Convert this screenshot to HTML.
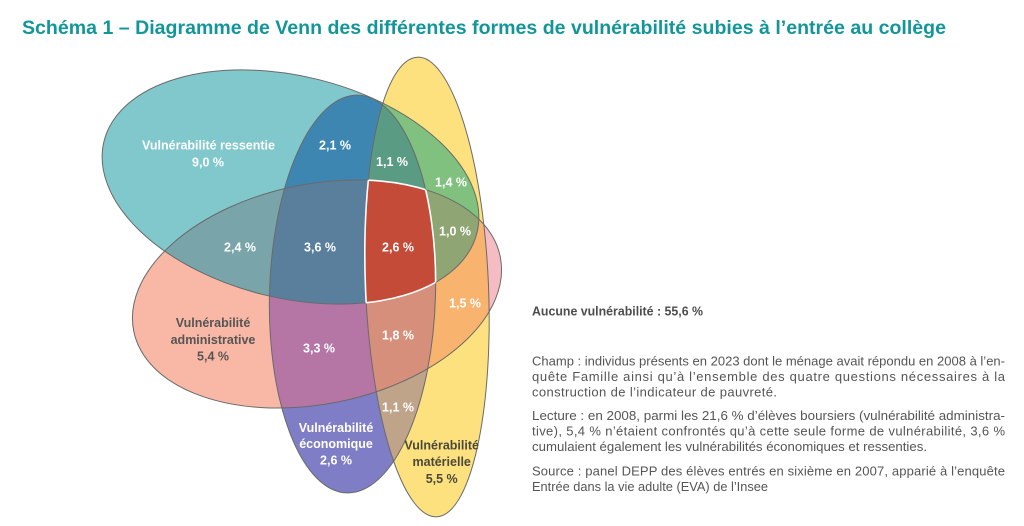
<!DOCTYPE html>
<html><head><meta charset="utf-8"><style>html,body{margin:0;padding:0;background:#fff;}svg{display:block;}</style></head>
<body>
<svg width="1024" height="526" viewBox="0 0 1024 526" xmlns="http://www.w3.org/2000/svg">
<defs>
<ellipse id="eR" cx="290.5" cy="187" rx="192" ry="111" transform="rotate(13.75 290.5 187)"/>
<ellipse id="eE" cx="352.5" cy="294" rx="83" ry="199" transform="rotate(1.6 352.5 294)"/>
<ellipse id="eM" cx="427" cy="287" rx="61.5" ry="230" transform="rotate(-2.4 427 287)"/>
<ellipse id="eA" cx="317" cy="294" rx="187" ry="110" transform="rotate(-11.5 317 294)"/>
<clipPath id="cR"><ellipse cx="290.5" cy="187" rx="192" ry="111" transform="rotate(13.75 290.5 187)"/></clipPath>
<clipPath id="cE"><ellipse cx="352.5" cy="294" rx="83" ry="199" transform="rotate(1.6 352.5 294)"/></clipPath>
<clipPath id="cM"><ellipse cx="427" cy="287" rx="61.5" ry="230" transform="rotate(-2.4 427 287)"/></clipPath>
<clipPath id="cA"><ellipse cx="317" cy="294" rx="187" ry="110" transform="rotate(-11.5 317 294)"/></clipPath>
</defs>
<rect width="1024" height="526" fill="#fff"/>

<text x="22" y="34" font-family="Liberation Sans, sans-serif" font-weight="bold" font-size="19.5" fill="#13969a" textLength="924" lengthAdjust="spacingAndGlyphs">Schéma 1 – Diagramme de Venn des différentes formes de vulnérabilité subies à l’entrée au collège</text>

<!-- singles -->
<use href="#eR" fill="#80c8cc"/>
<use href="#eA" fill="#f9b8a5"/>
<use href="#eE" fill="#7f7dc5"/>
<use href="#eM" fill="#fde17e"/>
<g clip-path="url(#cA)"><rect x="470" y="180" width="60" height="180" fill="#f6bcc3"/></g>

<!-- pairs -->
<g clip-path="url(#cR)"><use href="#eE" fill="#3d86b1"/></g>
<g clip-path="url(#cR)"><use href="#eM" fill="#80c17f"/></g>
<g clip-path="url(#cR)"><use href="#eA" fill="#79a4a9"/></g>
<g clip-path="url(#cA)"><use href="#eE" fill="#b576a6"/></g>
<g clip-path="url(#cA)"><use href="#eM" fill="#f8b36f"/></g>
<g clip-path="url(#cE)"><use href="#eM" fill="#bfa48a"/></g>

<!-- triples -->
<g clip-path="url(#cR)"><g clip-path="url(#cE)"><use href="#eM" fill="#5a9b84"/></g></g>
<g clip-path="url(#cR)"><g clip-path="url(#cM)"><use href="#eA" fill="#8fa674"/></g></g>
<g clip-path="url(#cR)"><g clip-path="url(#cE)"><use href="#eA" fill="#5a7f9c"/></g></g>
<g clip-path="url(#cA)"><g clip-path="url(#cE)"><use href="#eM" fill="#d68f7b"/></g></g>

<!-- quad -->
<g clip-path="url(#cR)"><g clip-path="url(#cE)"><g clip-path="url(#cM)"><use href="#eA" fill="#c44b38"/></g></g></g>

<!-- outlines -->
<g fill="none" stroke="#6a6a6a" stroke-width="1">
<use href="#eR"/><use href="#eE"/><use href="#eM"/><use href="#eA"/>
</g>
<!-- white border around central region -->
<g fill="none" stroke="#ffffff" stroke-width="1.6">
<g clip-path="url(#cE)"><g clip-path="url(#cM)"><g clip-path="url(#cA)"><use href="#eR"/></g></g></g>
<g clip-path="url(#cR)"><g clip-path="url(#cM)"><g clip-path="url(#cA)"><use href="#eE"/></g></g></g>
<g clip-path="url(#cR)"><g clip-path="url(#cE)"><g clip-path="url(#cA)"><use href="#eM"/></g></g></g>
<g clip-path="url(#cR)"><g clip-path="url(#cE)"><g clip-path="url(#cM)"><use href="#eA"/></g></g></g>
</g>

<!-- labels -->
<g font-family="Liberation Sans, sans-serif" font-weight="bold" font-size="12.5" text-anchor="middle" fill="#ffffff">
<text x="208.5" y="149.5">Vulnérabilité ressentie</text>
<text x="208" y="166.5">9,0 %</text>
<text x="335" y="149.5">2,1 %</text>
<text x="392" y="166">1,1 %</text>
<text x="451" y="186.5">1,4 %</text>
<text x="455" y="235.5">1,0 %</text>
<text x="398" y="251.5">2,6 %</text>
<text x="320" y="251.5">3,6 %</text>
<text x="240" y="251.5">2,4 %</text>
<text x="319" y="352.5">3,3 %</text>
<text x="398" y="339.5">1,8 %</text>
<text x="465" y="307.5">1,5 %</text>
<text x="398" y="411.5">1,1 %</text>
<text x="336" y="431.8">Vulnérabilité</text>
<text x="336" y="447.8">économique</text>
<text x="336" y="464.5">2,6 %</text>
<g fill="#555555">
<text x="213" y="327">Vulnérabilité</text>
<text x="213" y="343.8">administrative</text>
<text x="213" y="360.5">5,4 %</text>
</g>
<g fill="#4a4a3c">
<text x="441.7" y="449.5">Vulnérabilité</text>
<text x="441.7" y="466.2">matérielle</text>
<text x="441.7" y="482.8">5,5 %</text>
</g>
</g>

<!-- right text -->
<g font-family="Liberation Sans, sans-serif" font-size="13" fill="#555555">
<text x="532" y="315.5" font-weight="bold" font-size="12.5" fill="#4d4d4d" textLength="171" lengthAdjust="spacingAndGlyphs">Aucune vulnérabilité : 55,6 %</text>
<text x="532" y="365.7" textLength="473" lengthAdjust="spacingAndGlyphs">Champ : individus présents en 2023 dont le ménage avait répondu en 2008 à l’en-</text>
<text x="532" y="381.2" textLength="473" lengthAdjust="spacing">quête Famille ainsi qu’à l’ensemble des quatre questions nécessaires à la</text>
<text x="532" y="396.7" textLength="245" lengthAdjust="spacing">construction de l’indicateur de pauvreté.</text>
<text x="532" y="420" textLength="473" lengthAdjust="spacingAndGlyphs">Lecture : en 2008, parmi les 21,6 % d’élèves boursiers (vulnérabilité administra-</text>
<text x="532" y="435.5" textLength="473" lengthAdjust="spacing">tive), 5,4 % n’étaient confrontés qu’à cette seule forme de vulnérabilité, 3,6 %</text>
<text x="532" y="451" textLength="395" lengthAdjust="spacingAndGlyphs">cumulaient également les vulnérabilités économiques et ressenties.</text>
<text x="532" y="475.5" textLength="473" lengthAdjust="spacing">Source : panel DEPP des élèves entrés en sixième en 2007, apparié à l’enquête</text>
<text x="532" y="491" textLength="236" lengthAdjust="spacingAndGlyphs">Entrée dans la vie adulte (EVA) de l’Insee</text>
</g>
</svg>
</body></html>
